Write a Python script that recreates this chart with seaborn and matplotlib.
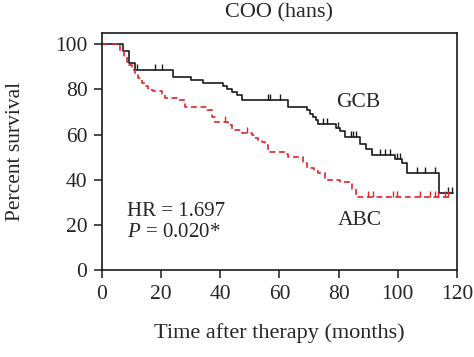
import numpy as np
import pandas as pd
import seaborn as sns
import matplotlib
matplotlib.use('Agg')
import matplotlib.pyplot as plt

# Kaplan-Meier curves (months, percent survival)
gcb_time = [0, 7.2, 9.2, 11.2, 23.9, 30.0, 34.3, 41.0, 42.2, 43.8, 45.5, 47.2,
            63.0, 69.2, 70.3, 71.4, 72.3, 73.1, 79.1, 80.5, 82.1, 87.2, 89.2,
            91.2, 99.1, 101.3, 103.2, 114.0, 118.5]
gcb_surv = [100, 97.0, 91.6, 88.6, 85.7, 84.2, 82.8, 81.4, 80.0, 78.9, 77.4, 75.5,
            72.3, 70.8, 69.3, 67.8, 66.4, 64.6, 63.1, 61.6, 59.0, 56.0, 53.4,
            50.9, 49.0, 47.2, 42.8, 34.2, 34.2]
gcb_censor = [11.8, 17.9, 20.2, 56.2, 56.8, 60.2, 74.8, 76.0, 79.9, 84.1, 85.0,
              85.8, 94.0, 95.7, 97.4, 99.6, 100.7, 106.4, 109.2, 112.6, 117.1, 118.2]

abc_time = [0, 6.1, 7.4, 8.3, 9.2, 10.0, 11.2, 12.3, 13.4, 14.5, 15.7, 17.3,
            20.2, 21.3, 25.2, 28.1, 35.4, 37.1, 38.2, 42.7, 43.8, 47.2, 50.6,
            51.7, 52.9, 54.0, 55.1, 56.2, 61.9, 63.0, 68.0, 69.2, 71.8, 73.1,
            75.4, 76.5, 80.5, 84.6, 86.0, 117.5]
abc_surv = [100, 96.8, 94.5, 92.3, 90.9, 88.6, 86.4, 85.0, 82.7, 81.3, 79.8, 79.1,
            77.6, 76.4, 75.4, 72.4, 70.8, 67.8, 65.6, 64.2, 62.0, 60.8, 59.7,
            58.3, 57.5, 56.8, 55.3, 52.4, 51.6, 50.1, 47.5, 45.0, 44.0, 42.8,
            40.6, 39.8, 38.9, 36.0, 32.2, 32.2]
abc_censor = [41.6, 48.9, 90.0, 91.7, 98.5, 99.6, 107.5, 110.9, 112.6, 113.7,
              116.0, 117.1]

groups = ['GCB', 'ABC']
colors = {'GCB': '#1a1a1a', 'ABC': '#e3242b'}

df = pd.concat([
    pd.DataFrame({'time': gcb_time, 'surv': gcb_surv, 'group': 'GCB'}),
    pd.DataFrame({'time': abc_time, 'surv': abc_surv, 'group': 'ABC'}),
])


def at_times(times, surv, t):
    # value of the step curve at the censoring times
    idx = np.searchsorted(times, t, side='right') - 1
    return np.asarray(surv)[idx]


cens = pd.concat([
    pd.DataFrame({'time': gcb_censor, 'surv': at_times(gcb_time, gcb_surv, gcb_censor), 'group': 'GCB'}),
    pd.DataFrame({'time': abc_censor, 'surv': at_times(abc_time, abc_surv, abc_censor), 'group': 'ABC'}),
])

sns.set_style('ticks')
plt.rcParams['font.family'] = ['Liberation Serif', 'DejaVu Serif']
plt.rcParams['mathtext.fontset'] = 'custom'
plt.rcParams['mathtext.rm'] = 'Liberation Serif'
plt.rcParams['mathtext.it'] = 'Liberation Serif:italic'

fig = plt.figure(figsize=(4.74, 3.57), dpi=100)
ax = fig.add_axes([0.2152, 0.2437, 0.7489, 0.6639])

sns.lineplot(
    data=df, x='time', y='surv', hue='group', style='group',
    palette=colors, dashes={'GCB': '', 'ABC': (3.5, 2.2)},
    drawstyle='steps-post', estimator=None, linewidth=1.2,
    legend=False, ax=ax
)

tick = [(0, 0), (0, 1)]
for g in groups:
    sub = cens[cens['group'] == g]
    ax.plot(sub['time'], sub['surv'], linestyle='none', marker=tick,
            markersize=8, markeredgewidth=1.0, color=colors[g])

ax.set_xlim(0, 120)
ax.set_ylim(0, 105)
ax.set_xticks(range(0, 121, 20))
ax.set_yticks(range(0, 101, 20))
ax.tick_params(labelsize=15.5, length=5.5, width=1.1, pad=5, color='#1a1a1a')
for s in ax.spines.values():
    s.set_linewidth(1.2)
    s.set_color('#1a1a1a')
    s.set_visible(True)

ax.text(0.5, 1.084, 'COO (hans)', fontsize=16, ha='center', va='center',
        transform=ax.transAxes)
ax.set_xlabel('Time after therapy (months)', fontsize=16)
ax.set_ylabel('Percent survival', fontsize=15.5)
ax.xaxis.set_label_coords(0.5, -0.266)
ax.yaxis.set_label_coords(-0.245, 0.5)
ax.xaxis.label.set_va('center')
ax.yaxis.label.set_va('center')

ax.text(8.4, 26, 'HR = 1.697', fontsize=15, va='center')
ax.text(8.4, 16.5, '$P$ = 0.020*', fontsize=15, va='center')
ax.text(86.6, 74, 'GCB', fontsize=15.5, ha='center', va='center')
ax.text(87.2, 22.1, 'ABC', fontsize=15.5, ha='center', va='center')

fig.savefig('out.png', dpi=100)
